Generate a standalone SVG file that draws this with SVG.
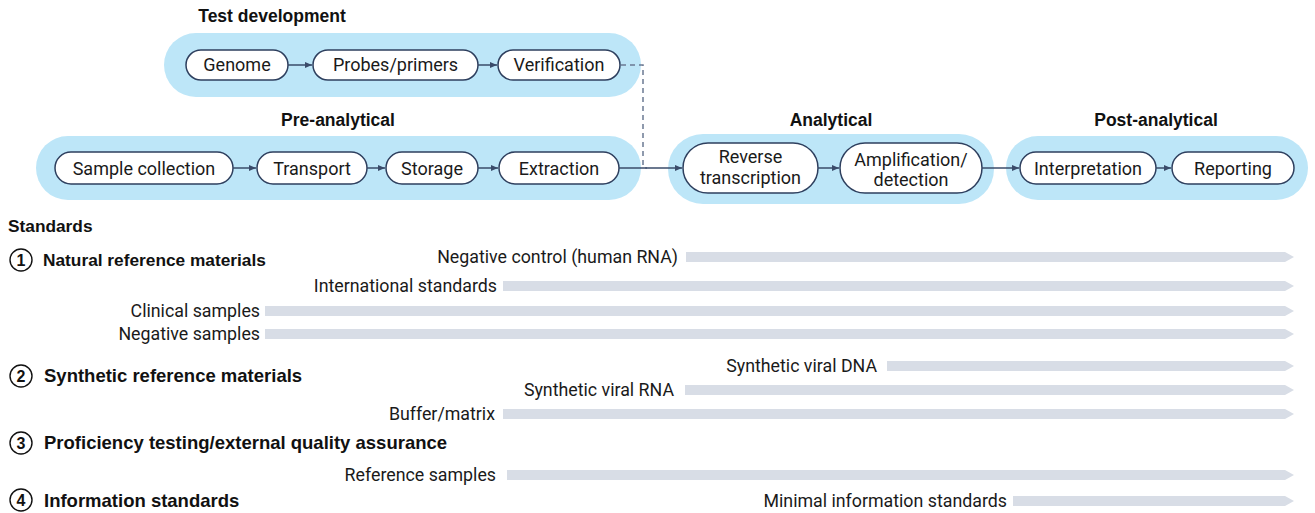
<svg xmlns="http://www.w3.org/2000/svg" width="1315" height="513" viewBox="0 0 1315 513">
<style>
.grp{fill:#bde6f8;}
.node{fill:#fff;stroke:#2e3f5e;stroke-width:1.5;}
.nt{font-family:Roboto,"Liberation Sans",sans-serif;font-size:18px;fill:#1a1a1a;text-anchor:middle;}
.title{font-family:"Liberation Sans",Arial,sans-serif;font-size:17.5px;font-weight:bold;fill:#111;text-anchor:middle;}
.hdr{font-family:"Liberation Sans",Arial,sans-serif;font-size:18.5px;font-weight:bold;fill:#111;}
.hdr1{font-family:"Liberation Sans",Arial,sans-serif;font-size:17.3px;font-weight:bold;fill:#111;}
.lbl{font-family:Roboto,"Liberation Sans",sans-serif;font-size:17.8px;fill:#1a1a1a;text-anchor:end;}
.bar{fill:#d8dde6;}
.num{fill:#fff;stroke:#111;stroke-width:1.4;}
.numt{font-family:"Liberation Sans",Arial,sans-serif;font-size:16px;font-weight:bold;fill:#111;text-anchor:middle;}
.conn{stroke:#3a4b6a;stroke-width:1.5;fill:none;}
.dash{stroke:#6b7a92;stroke-width:1.5;fill:none;stroke-dasharray:5 4;}
</style>
<defs>
<marker id="ah" markerWidth="8" markerHeight="8" refX="7" refY="4" orient="auto" markerUnits="userSpaceOnUse">
<path d="M0,1 L7,4 L0,7 Z" fill="#3a4b6a"/>
</marker>
</defs>

<g id="test-development">
<rect class="grp" x="164" y="33" width="477" height="64" rx="32"/>
<text class="title" x="272" y="22">Test development</text>
</g>
<g id="pre-analytical">
<rect class="grp" x="36" y="136" width="605" height="64" rx="32"/>
<text class="title" x="338" y="126">Pre-analytical</text>
</g>
<g id="analytical">
<rect class="grp" x="668" y="134" width="326" height="70" rx="35"/>
<text class="title" x="831" y="126">Analytical</text>
</g>
<g id="post-analytical">
<rect class="grp" x="1006" y="136" width="302" height="64" rx="32"/>
<text class="title" x="1156" y="126">Post-analytical</text>
</g>

<g id="genome"><rect class="node" x="186" y="50" width="102" height="30" rx="15"/><text class="nt" x="237" y="71">Genome</text></g>
<g id="probes"><rect class="node" x="313" y="50" width="165" height="30" rx="15"/><text class="nt" x="395.5" y="71">Probes/primers</text></g>
<g id="verification"><rect class="node" x="498" y="50" width="122" height="30" rx="15"/><text class="nt" x="559" y="71">Verification</text></g>

<g id="sample-collection"><rect class="node" x="55" y="152" width="178" height="32" rx="16"/><text class="nt" x="144" y="174.5">Sample collection</text></g>
<g id="transport"><rect class="node" x="257" y="152" width="110" height="32" rx="16"/><text class="nt" x="312" y="174.5">Transport</text></g>
<g id="storage"><rect class="node" x="386" y="152" width="92" height="32" rx="16"/><text class="nt" x="432" y="174.5">Storage</text></g>
<g id="extraction"><rect class="node" x="499" y="152" width="120" height="32" rx="16"/><text class="nt" x="559" y="174.5">Extraction</text></g>

<g id="reverse-transcription"><rect class="node" x="683" y="143" width="135" height="50" rx="25"/><text class="nt" x="750.5" y="163">Reverse</text><text class="nt" x="750.5" y="184">transcription</text></g>
<g id="amplification"><rect class="node" x="840" y="143" width="142" height="50" rx="25"/><text class="nt" x="911" y="166">Amplification/</text><text class="nt" x="911" y="186">detection</text></g>

<g id="interpretation"><rect class="node" x="1020" y="152" width="136" height="32" rx="16"/><text class="nt" x="1088" y="174.5">Interpretation</text></g>
<g id="reporting"><rect class="node" x="1172" y="152" width="122" height="32" rx="16"/><text class="nt" x="1233" y="174.5">Reporting</text></g>

<g id="connectors">
<line class="conn" x1="288" y1="65" x2="312" y2="65" marker-end="url(#ah)"/>
<line class="conn" x1="478" y1="65" x2="497" y2="65" marker-end="url(#ah)"/>
<path class="dash" d="M621,65 H643 V165 Q643,168 647,168"/>
<line class="conn" x1="233" y1="168" x2="256" y2="168" marker-end="url(#ah)"/>
<line class="conn" x1="367" y1="168" x2="385" y2="168" marker-end="url(#ah)"/>
<line class="conn" x1="478" y1="168" x2="498" y2="168" marker-end="url(#ah)"/>
<line class="conn" x1="619" y1="168" x2="682" y2="168" marker-end="url(#ah)"/>
<line class="conn" x1="818" y1="168" x2="839" y2="168" marker-end="url(#ah)"/>
<line class="conn" x1="982" y1="168" x2="1019" y2="168" marker-end="url(#ah)"/>
<line class="conn" x1="1156" y1="168" x2="1171" y2="168" marker-end="url(#ah)"/>
</g>

<g id="standards">
<text class="hdr1" x="8" y="232">Standards</text>

<g id="s1">
<circle class="num" cx="21" cy="260" r="11"/><text class="numt" x="21" y="266">1</text>
<text class="hdr1" x="43" y="266">Natural reference materials</text>
</g>
<g id="s2">
<circle class="num" cx="21" cy="376" r="11"/><text class="numt" x="21" y="382">2</text>
<text class="hdr" x="44" y="382">Synthetic reference materials</text>
</g>
<g id="s3">
<circle class="num" cx="21" cy="443" r="11"/><text class="numt" x="21" y="449">3</text>
<text class="hdr" x="44" y="449">Proficiency testing/external quality assurance</text>
</g>
<g id="s4">
<circle class="num" cx="21" cy="500" r="11"/><text class="numt" x="21" y="506">4</text>
<text class="hdr" x="44" y="507">Information standards</text>
</g>

<g id="bars">
<text class="lbl" x="678" y="263">Negative control (human RNA)</text>
<polygon class="bar" points="686,252 1285,252 1294,257 1285,262 686,262"/>
<text class="lbl" x="497" y="292">International standards</text>
<polygon class="bar" points="503,281 1285,281 1294,286 1285,291 503,291"/>
<text class="lbl" x="260" y="317">Clinical samples</text>
<polygon class="bar" points="265,306 1285,306 1294,311 1285,316 265,316"/>
<text class="lbl" x="260" y="340">Negative samples</text>
<polygon class="bar" points="265,329 1285,329 1294,334 1285,339 265,339"/>
<text class="lbl" x="877" y="372">Synthetic viral DNA</text>
<polygon class="bar" points="887,361 1285,361 1294,366 1285,371 887,371"/>
<text class="lbl" x="674" y="396">Synthetic viral RNA</text>
<polygon class="bar" points="685,385 1285,385 1294,390 1285,395 685,395"/>
<text class="lbl" x="495" y="420">Buffer/matrix</text>
<polygon class="bar" points="503,409 1285,409 1294,414 1285,419 503,419"/>
<text class="lbl" x="496" y="481">Reference samples</text>
<polygon class="bar" points="507,470 1285,470 1294,475 1285,480 507,480"/>
<text class="lbl" x="1007" y="507">Minimal information standards</text>
<polygon class="bar" points="1013,496 1285,496 1294,501 1285,506 1013,506"/>
</g>
</g>
</svg>
